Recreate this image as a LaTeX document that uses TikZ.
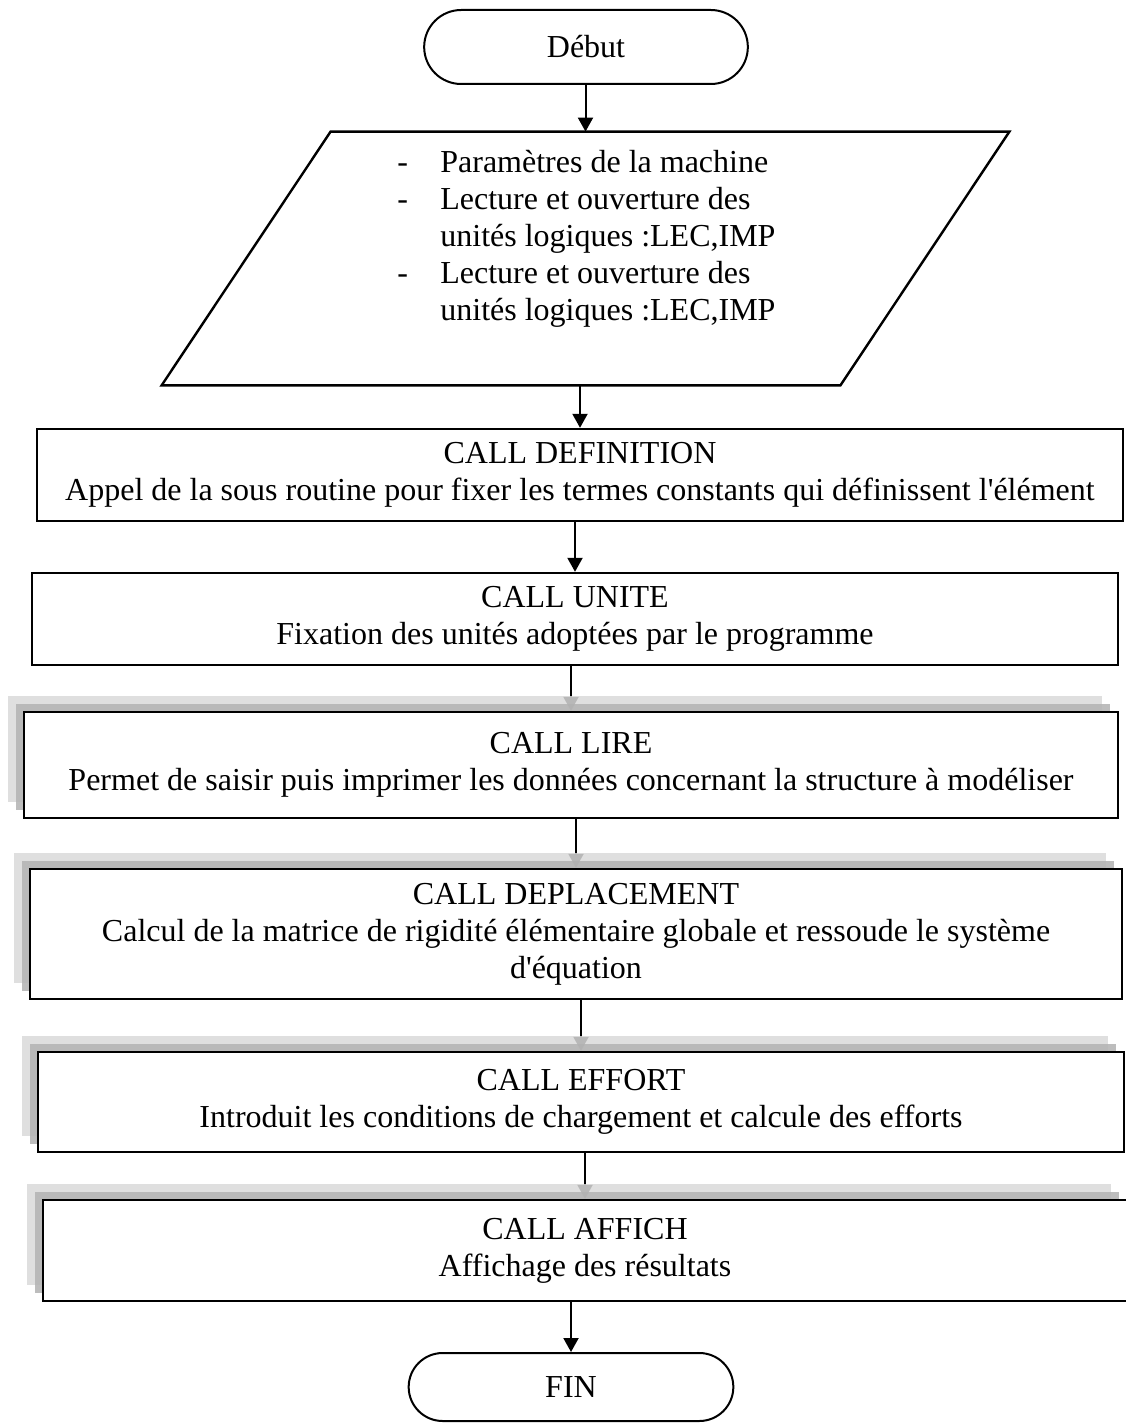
\documentclass[tikz,border=0pt]{standalone}
\usepackage{fontspec}
\setmainfont{Liberation Serif}[Ligatures=TeXOff]
\usetikzlibrary{arrows.meta,shapes.misc,shadows,backgrounds}

\begin{document}
\begin{tikzpicture}[x=0.5pt,y=-0.5pt,
    every node/.style={font=\fontsize{16}{18.5}\selectfont},
    term/.style={draw,line width=1pt,rounded rectangle,minimum width=168.5pt,minimum height=37pt},
    callbox/.style={draw,line width=1.2pt,align=center,inner sep=0pt},
    shadebox/.style={callbox,fill=white,
        general shadow={shadow xshift=-8pt,shadow yshift=8pt,fill=gray!30,opacity=.85},
        general shadow={shadow xshift=-4pt,shadow yshift=4pt,fill=gray!60,opacity=.85}},
    flow/.style={line width=1pt,-{Triangle[length=7pt,width=7.5pt]}}]
  \useasboundingbox (0,0) rectangle (1125,1423);
  \node[term] (debut) at (586,47) {Début};
  % entree des donnees
  \node[minimum width=339pt,minimum height=126.5pt,inner sep=0pt] (inp) at (585.5,258.5) {};
  \draw[line width=1.2pt] ([xshift=42.25pt]inp.north west) -- ([xshift=42.25pt]inp.north east)
      -- ([xshift=-42.25pt]inp.south east) -- ([xshift=-42.25pt]inp.south west) -- cycle;
  \node[anchor=north west,inner sep=0pt] (inptxt) at (397,146) {\begin{tabular}{@{}p{21.5pt}@{}l@{}}
      - & Paramètres de la machine\\
      - & Lecture et ouverture des\\
        & unités logiques :LEC,IMP\\
      - & Lecture et ouverture des\\
        & unités logiques :LEC,IMP
    \end{tabular}};
  % sous routines
  \node[callbox,minimum width=543pt,minimum height=46pt] (def) at (580,475)
      {CALL DEFINITION\\Appel de la sous routine pour fixer les termes constants qui définissent l'élément};
  \node[callbox,minimum width=543pt,minimum height=46pt] (unite) at (575,619)
      {CALL UNITE\\Fixation des unités adoptées par le programme};
  \node[shadebox,minimum width=547pt,minimum height=53pt] (lire) at (571,765)
      {CALL LIRE\\Permet de saisir puis imprimer les données concernant la structure à modéliser};
  \node[shadebox,minimum width=546pt,minimum height=65pt] (depl) at (576,934)
      {CALL DEPLACEMENT\\Calcul de la matrice de rigidité élémentaire globale et ressoude le système\\d'équation};
  \node[shadebox,minimum width=543pt,minimum height=50pt] (effort) at (581,1102)
      {CALL EFFORT\\Introduit les conditions de chargement et calcule des efforts};
  \node[shadebox,minimum width=542pt,minimum height=50.5pt] (affich) at (585,1250.5)
      {CALL AFFICH\\Affichage des résultats};
  \node[term,minimum width=169pt,minimum height=34pt] (fin) at (571,1387) {FIN};
  % fleches
  \begin{scope}[on background layer]
    \foreach \a/\b in {debut/inp,inp/def,def/unite,unite/lire,lire/depl,depl/effort,effort/affich,affich/fin}
      \draw[flow] (\b.north |- \a.south) -- (\b.north);
  \end{scope}
\end{tikzpicture}
\end{document}
